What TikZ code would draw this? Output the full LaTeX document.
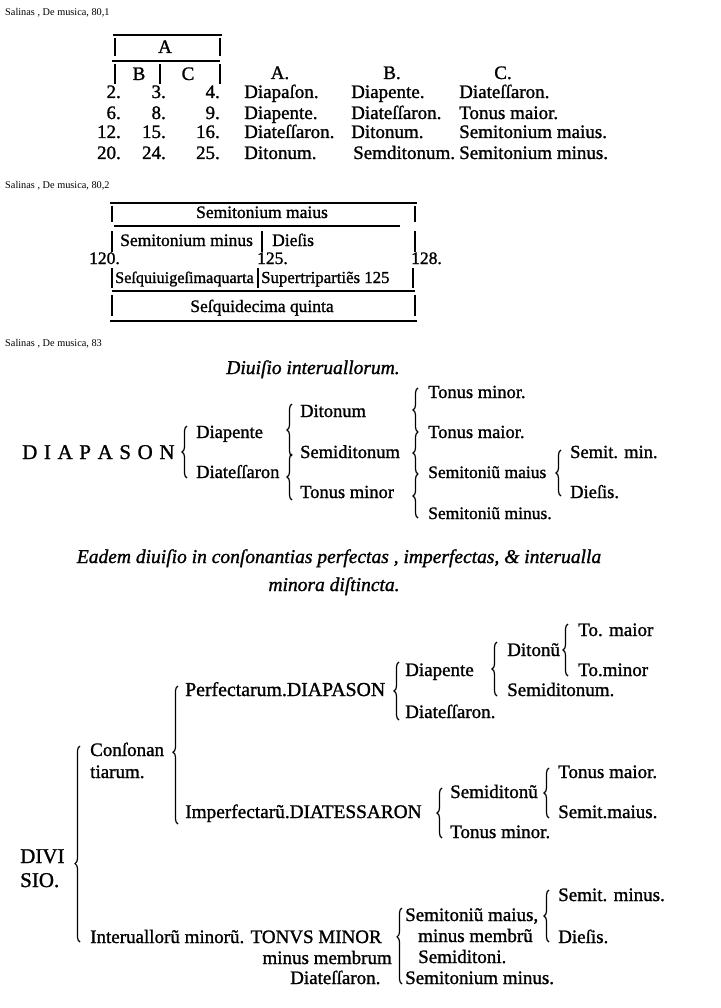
\documentclass[tikz,border=0pt]{standalone}
\usepackage{fontspec}
\setmainfont{Liberation Serif}[FakeBold=1.2]
\newfontfamily\capfont{Liberation Serif}
\usetikzlibrary{decorations.pathreplacing}
\tikzset{
  capt/.style={anchor=base west, inner sep=0pt, font=\capfont\fontsize{10.3}{11}\selectfont},
  txt/.style={anchor=base west, inner sep=0pt, font=\fontsize{19}{19}\selectfont},
  txtc/.style={anchor=base, inner sep=0pt, font=\fontsize{19}{19}\selectfont},
  txte/.style={anchor=base east, inner sep=0pt, font=\fontsize{19}{19}\selectfont},
  tbl/.style={anchor=base west, inner sep=0pt, font=\fontsize{17.5}{18}\selectfont},
  tblc/.style={anchor=base, inner sep=0pt, font=\fontsize{17.5}{18}\selectfont},
  mid/.style={anchor=base west, inner sep=0pt, font=\fontsize{18.5}{19}\selectfont},
  wide/.style={anchor=base west, inner sep=0pt, font=\fontsize{19.8}{21}\selectfont},
  ttl/.style={anchor=base, inner sep=0pt, font=\fontsize{19.5}{20}\selectfont\itshape},
  big/.style={anchor=base west, inner sep=0pt, font=\fontsize{21}{21}\selectfont},
  rule/.style={line width=1.3pt},
  brc/.style={decorate, decoration={brace, amplitude=5pt, aspect=#1}, line width=1.2pt},
  brc/.default=0.5
}
\begin{document}
\begin{tikzpicture}[x=1pt,y=-1pt]
\useasboundingbox[fill=white] (0,0) rectangle (720,1008);

% ---------------- Section 1 ----------------
\node[capt] (cap1) at (5,16) {Salinas , De musica, 80,1};
\coordinate (t1a) at (113,35); \coordinate (t1b) at (222,35);
\coordinate (t2a) at (112,61); \coordinate (t2b) at (220,61);
\draw[rule] (t1a) -- (t1b);
\draw[rule] (t2a) -- (t2b);
\coordinate (r1a) at (115,38); \coordinate (r1b) at (115,56);
\coordinate (r1c) at (220,38); \coordinate (r1d) at (220,56);
\draw[rule] (r1a) -- (r1b); \draw[rule] (r1c) -- (r1d);
\node[txtc] (hA) at (165,53) {A};
\coordinate (r2a) at (115,64); \coordinate (r2b) at (115,84);
\coordinate (r2c) at (160,64); \coordinate (r2d) at (160,84);
\coordinate (r2e) at (220,64); \coordinate (r2f) at (220,84);
\draw[rule] (r2a) -- (r2b); \draw[rule] (r2c) -- (r2d); \draw[rule] (r2e) -- (r2f);
\node[txtc] (hB) at (139,80) {B};
\node[txtc] (hC) at (188,80) {C};
\node[txtc] (cA) at (280,79) {A.};
\node[txtc] (cB) at (392,79) {B.};
\node[txtc] (cC) at (503,79) {C.};
% numbers
\node[txte] (n11) at (121,98) {2.};
\node[txte] (n12) at (166,98) {3.};
\node[txte] (n13) at (220,98) {4.};
\node[txte] (n21) at (121,119) {6.};
\node[txte] (n22) at (166,119) {8.};
\node[txte] (n23) at (220,119) {9.};
\node[txte] (n31) at (121,138) {12.};
\node[txte] (n32) at (166,138) {15.};
\node[txte] (n33) at (220,138) {16.};
\node[txte] (n41) at (121,159) {20.};
\node[txte] (n42) at (166,159) {24.};
\node[txte] (n43) at (220,159) {25.};
% words
\node[txt] (w1a) at (244,98) {Diapaſon.};
\node[txt] (w1b) at (351,98) {Diapente.};
\node[txt] (w1c) at (459,98) {Diateſſaron.};
\node[txt] (w2a) at (244,119) {Diapente.};
\node[txt] (w2b) at (351,119) {Diateſſaron.};
\node[txt] (w2c) at (459,119) {Tonus maior.};
\node[txt] (w3a) at (244,138) {Diateſſaron.};
\node[txt] (w3b) at (351,138) {Ditonum.};
\node[txt] (w3c) at (459,138) {Semitonium maius.};
\node[txt] (w4a) at (244,159) {Ditonum.};
\node[txt] (w4b) at (353,159) {Semditonum.};
\node[txt] (w4c) at (459,159) {Semitonium minus.};

% ---------------- Section 2 ----------------
\node[capt] (cap2) at (5,189) {Salinas , De musica, 80,2};
\coordinate (s2l1a) at (110,203); \coordinate (s2l1b) at (417,203);
\draw[rule] (s2l1a) -- (s2l1b);
\coordinate (s2b1a) at (112,206); \coordinate (s2b1b) at (112,222);
\coordinate (s2b2a) at (415,206); \coordinate (s2b2b) at (415,222);
\draw[rule] (s2b1a) -- (s2b1b); \draw[rule] (s2b2a) -- (s2b2b);
\node[tblc] (smaius) at (262,218) {Semitonium maius};
\coordinate (s2l2a) at (114,226); \coordinate (s2l2b) at (400,226);
\draw[rule] (s2l2a) -- (s2l2b);
\coordinate (s2b3a) at (112,231); \coordinate (s2b3b) at (112,252);
\coordinate (s2b4a) at (262,231); \coordinate (s2b4b) at (262,252);
\coordinate (s2b5a) at (415,231); \coordinate (s2b5b) at (415,252);
\draw[rule] (s2b3a) -- (s2b3b); \draw[rule] (s2b4a) -- (s2b4b); \draw[rule] (s2b5a) -- (s2b5b);
\node[tbl] (sminus) at (120,246) {Semitonium minus};
\node[tbl] (sdiesis) at (272,246) {Dieſis};
\node[tbl] (n120) at (89,264) {120.};
\node[tbl] (n125) at (257,264) {125.};
\node[tbl] (n128) at (411,264) {128.};
\coordinate (s2b6a) at (112,268); \coordinate (s2b6b) at (112,288);
\coordinate (s2b7a) at (258,268); \coordinate (s2b7b) at (258,288);
\coordinate (s2b8a) at (413,268); \coordinate (s2b8b) at (413,288);
\draw[rule] (s2b6a) -- (s2b6b); \draw[rule] (s2b7a) -- (s2b7b); \draw[rule] (s2b8a) -- (s2b8b);
\node[tbl, font=\fontsize{16.2}{18}\selectfont] (sesq) at (115,283) {Seſquiuigeſimaquarta};
\node[tbl, font=\fontsize{16.8}{18}\selectfont] (super) at (261,283) {Supertripartiẽs 125};
\coordinate (s2l3a) at (112,291); \coordinate (s2l3b) at (415,291);
\draw[rule] (s2l3a) -- (s2l3b);
\coordinate (s2b9a) at (112,295); \coordinate (s2b9b) at (112,316);
\coordinate (s2b10a) at (415,295); \coordinate (s2b10b) at (415,316);
\draw[rule] (s2b9a) -- (s2b9b); \draw[rule] (s2b10a) -- (s2b10b);
\node[tblc] (sesqd) at (262,312) {Seſquidecima quinta};
\coordinate (s2l4a) at (110,321); \coordinate (s2l4b) at (417,321);
\draw[rule] (s2l4a) -- (s2l4b);

% ---------------- Section 3 ----------------
\node[capt] (cap3) at (5,346) {Salinas , De musica, 83};
\node[ttl] (tit3) at (313,374) {Diuiſio interuallorum.};
\node[big] (diapason) at (22,459) {D\hspace{6.6pt}I\hspace{6.6pt}A\hspace{6.6pt}P\hspace{6.6pt}A\hspace{6.6pt}S\hspace{6.6pt}O\hspace{6.6pt}N};
\node[mid] (d3diap) at (196,438) {Diapente};
\node[mid] (d3diat) at (196,478) {Diateſſaron};
\node[mid] (d3dit) at (300,417) {Ditonum};
\node[mid] (d3semid) at (300,458) {Semiditonum};
\node[mid] (d3ton) at (300,498) {Tonus minor};
\node[mid] (d3tmin) at (428,398) {Tonus minor.};
\node[mid] (d3tmai) at (428,438) {Tonus maior.};
\node[mid, font=\fontsize{17.5}{19}\selectfont] (d3smai) at (428,478) {Semitoniũ maius};
\node[mid, font=\fontsize{17.5}{19}\selectfont] (d3smin) at (428,519) {Semitoniũ minus.};
\node[mid] (d3semit) at (570,458) {Semit. min.};
\node[mid] (d3dies) at (570,498) {Dieſis.};
\coordinate (b1s) at (187,478); \coordinate (b1e) at (187,426);
\coordinate (b2s) at (292,456); \coordinate (b2e) at (292,404);
\coordinate (b3s) at (292,500); \coordinate (b3e) at (292,454);
\coordinate (b4s) at (418,432); \coordinate (b4e) at (418,388);
\coordinate (b5s) at (418,474); \coordinate (b5e) at (418,432);
\coordinate (b6s) at (418,518); \coordinate (b6e) at (418,474);
\coordinate (b7s) at (561,496); \coordinate (b7e) at (561,450);
\draw[brc] (b1s) -- (b1e);
\draw[brc] (b2s) -- (b2e);
\draw[brc] (b3s) -- (b3e);
\draw[brc] (b4s) -- (b4e);
\draw[brc] (b5s) -- (b5e);
\draw[brc] (b6s) -- (b6e);
\draw[brc] (b7s) -- (b7e);

% ---------------- Section 4 ----------------
\node[ttl] (tit4a) at (339,563) {Eadem diuiſio in conſonantias perfectas , imperfectas, \& interualla};
\node[ttl] (tit4b) at (334,591) {minora diſtincta.};
\node[wide] (perf) at (185,696) {Perfectarum.DIAPASON};
\node[txt] (p4diap) at (405,676) {Diapente};
\node[txt] (p4diat) at (405,718) {Diateſſaron.};
\node[txt] (p4dit) at (507,656) {Ditonũ};
\node[txt] (p4semid) at (507,696) {Semiditonum.};
\node[txt] (p4tmai) at (578,636) {To. maior};
\node[txt] (p4tmin) at (578,676) {To.minor};
\coordinate (p1s) at (399,720); \coordinate (p1e) at (399,662);
\coordinate (p2s) at (497,696); \coordinate (p2e) at (497,642);
\coordinate (p3s) at (568,676); \coordinate (p3e) at (568,624);
\draw[brc] (p1s) -- (p1e);
\draw[brc] (p2s) -- (p2e);
\draw[brc] (p3s) -- (p3e);

\node[big] (divi) at (20,863) {DIVI};
\node[big] (sio) at (20,887) {SIO.};
\node[txt] (conson) at (90,756) {Conſonan};
\node[txt] (tiarum) at (90,778) {tiarum.};
\coordinate (dvs) at (80,942); \coordinate (dve) at (80,746);
\draw[brc=0.40] (dvs) -- (dve);
\coordinate (cns) at (178,824); \coordinate (cne) at (178,686);
\draw[brc=0.52] (cns) -- (cne);

\node[wide, font=\fontsize{19.3}{21}\selectfont] (imperf) at (185,818) {Imperfectarũ.DIATESSARON};
\node[txt] (i4semid) at (450,798) {Semiditonũ};
\node[txt] (i4ton) at (450,838) {Tonus minor.};
\node[txt] (i4tmai) at (558,778) {Tonus maior.};
\node[txt] (i4smai) at (558,818) {Semit.maius.};
\coordinate (i1s) at (442,838); \coordinate (i1e) at (442,788);
\coordinate (i2s) at (549,818); \coordinate (i2e) at (549,768);
\draw[brc] (i1s) -- (i1e);
\draw[brc] (i2s) -- (i2e);

\node[wide, font=\fontsize{19}{20}\selectfont] (inter) at (90,943) {Interuallorũ minorũ. TONVS MINOR};
\node[txte] (mmemb) at (392,964) {minus membrum};
\node[txt] (mdiat) at (290,984) {Diateſſaron.};
\node[txt] (m4smai) at (405,921) {Semitoniũ maius,};
\node[txt] (m4mm) at (418,942) {minus membrũ};
\node[txt] (m4semid) at (418,963) {Semiditoni.};
\node[txt] (m4smin) at (405,984) {Semitonium minus.};
\node[txt] (m4semit) at (558,901) {Semit. minus.};
\node[txt] (m4dies) at (558,943) {Dieſis.};
\coordinate (m1s) at (402,984); \coordinate (m1e) at (402,908);
\coordinate (m2s) at (549,942); \coordinate (m2e) at (549,890);
\draw[brc=0.62] (m1s) -- (m1e);
\draw[brc] (m2s) -- (m2e);
\end{tikzpicture}
\end{document}
